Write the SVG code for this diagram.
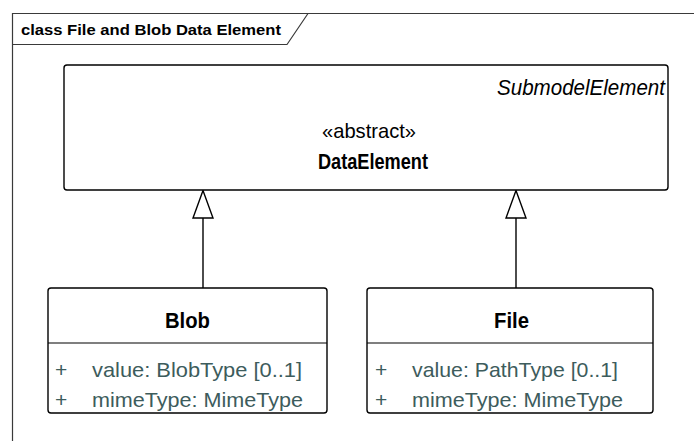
<svg xmlns="http://www.w3.org/2000/svg" width="694" height="441" viewBox="0 0 694 441">
<style>
text{font-family:"Liberation Sans",Arial,sans-serif;fill:#000}
.frame{fill:none;stroke:#3a3a3a;stroke-width:1.2}
.box{fill:#fff;stroke:#000;stroke-width:1.4}
.div{stroke:#000;stroke-width:1.2}
.conn{fill:none;stroke:#000;stroke-width:1.4}
.tri{fill:#fff;stroke:#000;stroke-width:1.4}
.b{font-weight:bold}
.attr{font-size:21px;fill:#3d5c5c}
</style>
<rect width="694" height="441" fill="#fff"/>
<g id="frame">
<path class="frame" d="M12.5,441 V13.5 H694"/>
<path class="frame" d="M12.5,44.5 H287 L308,13.5"/>
<text x="21" y="35" class="b" font-size="15.5" textLength="260" lengthAdjust="spacingAndGlyphs">class File and Blob Data Element</text>
</g>
<g id="connectors">
<line class="conn" x1="203" y1="288" x2="203" y2="218"/>
<polygon class="tri" points="203,190.5 193,218 213,218"/>
<line class="conn" x1="516" y1="288" x2="516" y2="218"/>
<polygon class="tri" points="516,190.5 506,218 526,218"/>
</g>
<g id="DataElement">
<rect class="box" x="64" y="65" width="604" height="125" rx="3"/>
<text x="665" y="95" text-anchor="end" font-style="italic" font-size="22" textLength="168" lengthAdjust="spacingAndGlyphs">SubmodelElement</text>
<text x="322" y="138" font-size="21" textLength="94" lengthAdjust="spacingAndGlyphs">«abstract»</text>
<text x="318" y="169" class="b" font-size="22" textLength="110" lengthAdjust="spacingAndGlyphs">DataElement</text>
</g>
<g id="Blob">
<rect class="box" x="48" y="288" width="279" height="125" rx="3"/>
<line class="div" x1="48" y1="343" x2="327" y2="343"/>
<text x="165" y="328" class="b" font-size="22" textLength="45" lengthAdjust="spacingAndGlyphs">Blob</text>
<text x="55" y="377" class="attr">+</text>
<text x="92" y="377" class="attr" textLength="210" lengthAdjust="spacingAndGlyphs">value: BlobType [0..1]</text>
<text x="55" y="407" class="attr">+</text>
<text x="92" y="407" class="attr" textLength="211" lengthAdjust="spacingAndGlyphs">mimeType: MimeType</text>
</g>
<g id="File">
<rect class="box" x="367" y="288" width="286" height="125" rx="3"/>
<line class="div" x1="367" y1="343" x2="653" y2="343"/>
<text x="494" y="328" class="b" font-size="22" textLength="35" lengthAdjust="spacingAndGlyphs">File</text>
<text x="375" y="377" class="attr">+</text>
<text x="412" y="377" class="attr" textLength="206" lengthAdjust="spacingAndGlyphs">value: PathType [0..1]</text>
<text x="375" y="407" class="attr">+</text>
<text x="412" y="407" class="attr" textLength="211" lengthAdjust="spacingAndGlyphs">mimeType: MimeType</text>
</g>
</svg>
